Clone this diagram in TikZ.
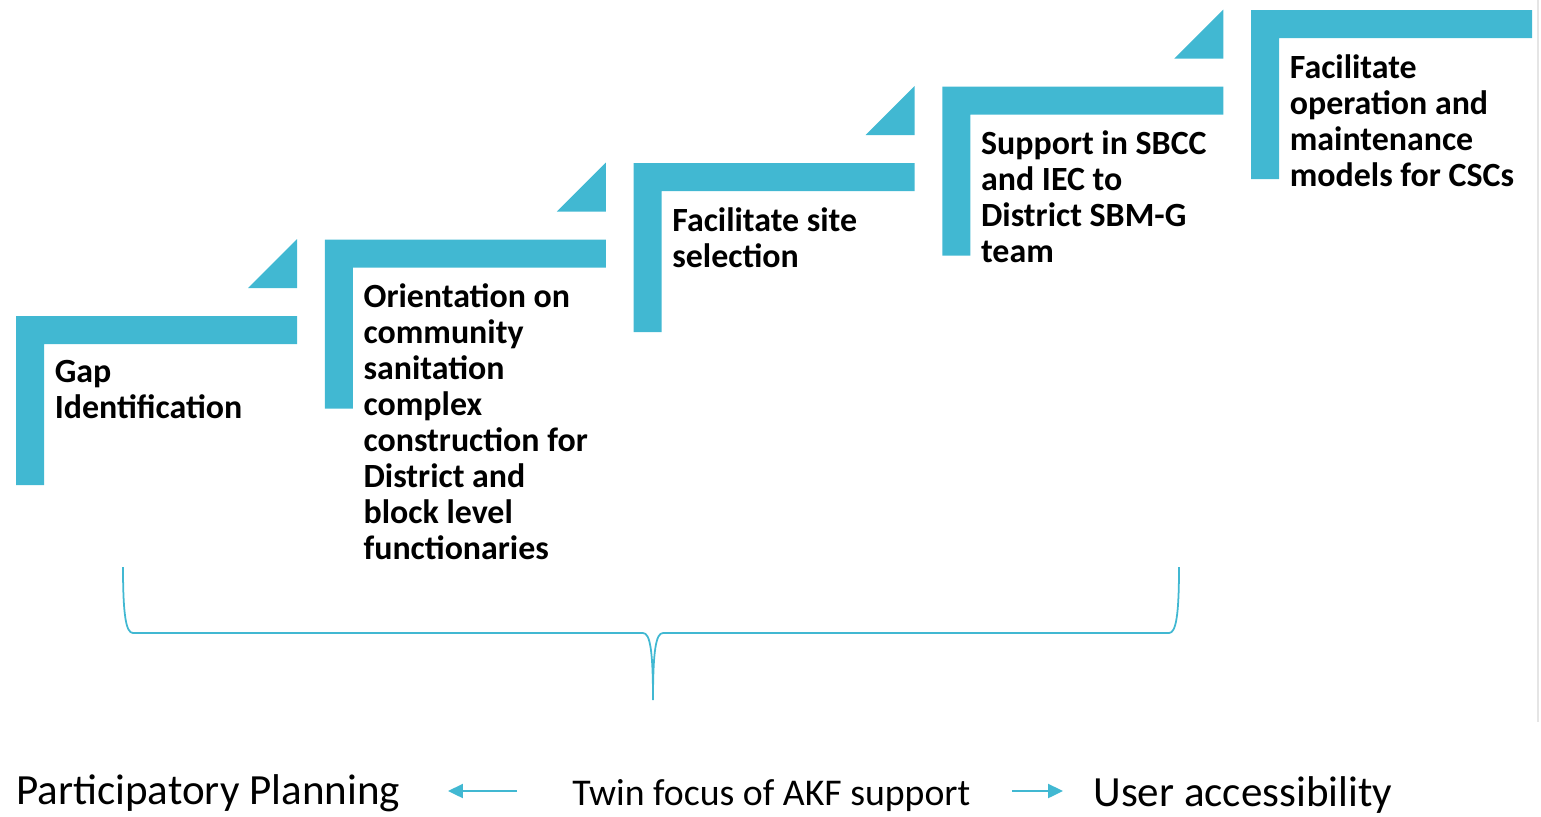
\documentclass[tikz,border=0pt]{standalone}
\usepackage{fontspec}
\setmainfont{Carlito}
\usetikzlibrary{arrows.meta}
\definecolor{stepblue}{RGB}{65,184,210}
\tikzset{
  step bar/.style={fill=stepblue},
  step text/.style={anchor=north west,inner sep=0pt,align=left,
    font=\bfseries\fontsize{19.3pt}{20.5pt}\selectfont,execute at begin node=\strut},
  focus text/.style={anchor=base west,inner sep=0pt},
  focus arrow/.style={draw=stepblue,line width=1.1pt,-{Triangle[length=8.5pt,width=8pt]}},
}

\begin{document}
\begin{tikzpicture}[x=0.02cm,y=-0.02cm]
  \useasboundingbox (0,0) rectangle (1541,816);
  % thin edge on the right
  \draw[gray!20,line width=0.6pt] (1538,0) -- (1538,722);

  % the five steps
  \foreach \i/\txt in {0/{Gap\\Identification},
      1/{Orientation on\\community\\sanitation\\complex\\construction for\\District and\\block level\\functionaries},
      2/{Facilitate site\\selection},
      3/{Support in SBCC\\and IEC to\\District SBM-G\\team},
      4/{Facilitate\\operation and\\maintenance\\models for CSCs}}{
    \pgfmathsetmacro{\xa}{16+308.75*\i}
    \pgfmathsetmacro{\ya}{316-76.5*\i}
    \fill[step bar] (\xa,\ya) -- ++(281,0) -- ++(0,28) -- ++(-253,0)
      -- ++(0,141) -- ++(-28,0) -- cycle;
    \ifnum\i<4
      \fill[step bar] (\xa+281,\ya-77) -- ++(0,49) -- ++(-49,0) -- cycle;
    \fi
    \node[step text] (step\i) at (\xa+38.5,\ya+44) {\txt};
  }

  % brace under the first four steps
  \draw[stepblue,line width=1pt] (123,567) .. controls (123,615) and (126,633) .. (133,633)
    -- (643,633) .. controls (650,633) and (653,650) .. (653,700)
    .. controls (653,650) and (656,633) .. (663,633)
    -- (1169,633) .. controls (1176,633) and (1179,615) .. (1179,567);

  % twin focus line
  \node[focus text,font=\fontsize{24.5pt}{29pt}\selectfont] (plan) at (16,804) {Participatory Planning};
  \node[focus text,font=\fontsize{21.5pt}{26pt}\selectfont] (twin) at (572,805) {Twin focus of AKF support};
  \node[focus text,font=\fontsize{24.5pt}{29pt}\selectfont] (user) at (1093,806) {User accessibility};
  \coordinate (left tail) at (517,791);
  \coordinate (left head) at (448,791);
  \coordinate (right tail) at (1012,791);
  \coordinate (right head) at (1063,791);
  \draw[focus arrow] (left tail) -- (left head);
  \draw[focus arrow] (right tail) -- (right head);
\end{tikzpicture}
\end{document}
